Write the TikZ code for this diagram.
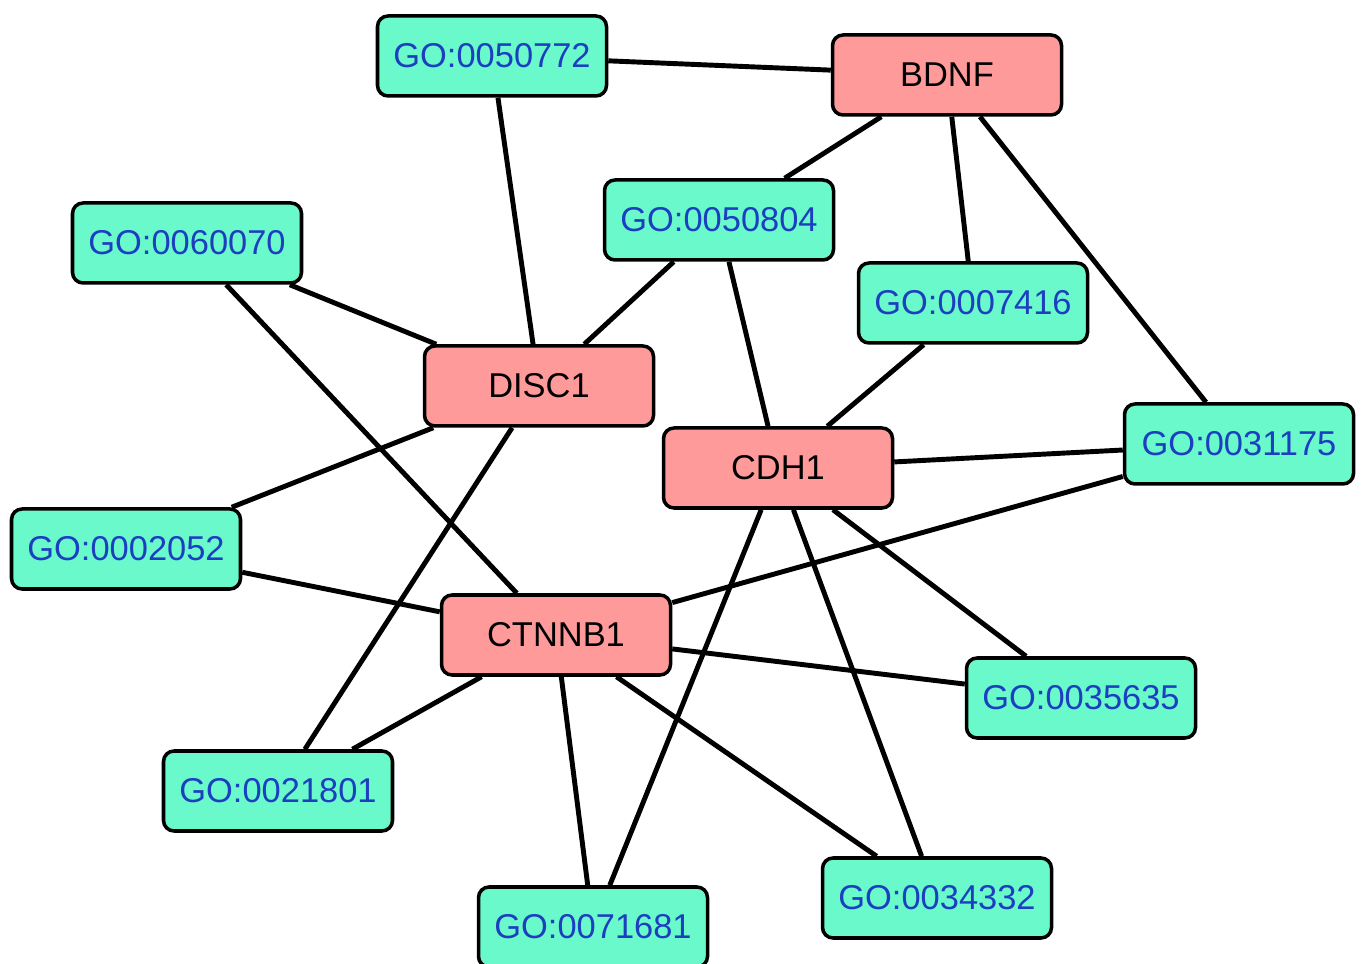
\documentclass[tikz,border=0pt]{standalone}
\usepackage{fontspec}
\setmainfont{Liberation Sans}
\usepackage{tikz}
\usetikzlibrary{positioning}
\definecolor{termfill}{HTML}{69F9CB}
\definecolor{genefill}{HTML}{FF9A9A}
\definecolor{termtext}{HTML}{1C3FC0}
\tikzset{
  base/.style={rounded corners=6pt, draw=black, line width=2pt, align=center,
    minimum width=4.58cm, minimum height=1.6cm, inner sep=2pt,
    font=\fontsize{19.6}{23}\selectfont},
  term/.style={base, fill=termfill, text=termtext},
  gene/.style={base, fill=genefill, text=black},
  link/.style={line width=2.8pt, draw=black},
}
\begin{document}
\begin{tikzpicture}
  \useasboundingbox (0,0) rectangle (27.26,19.26);
  % genes
  \foreach \x/\y/\id in {18.94/17.76/BDNF, 10.78/11.54/DISC1, 15.56/9.90/CDH1, 11.12/6.56/CTNNB1}
    \node[gene] (\id) at (\x,\y) {\id};
  % GO terms
  \foreach \x/\y/\id in {
      9.84/18.14/0050772, 14.38/14.86/0050804, 3.74/14.40/0060070,
      19.46/13.20/0007416, 24.78/10.38/0031175, 2.52/8.28/0002052,
      21.62/5.30/0035635, 5.56/3.44/0021801, 18.74/1.30/0034332,
      11.86/0.72/0071681}
    \node[term] (go\id) at (\x,\y) {GO:\id};
  % links
  \foreach \a/\b in {
      go0050772/BDNF, go0050772/DISC1,
      BDNF/go0050804, BDNF/go0007416, BDNF/go0031175,
      go0050804/DISC1, go0050804/CDH1,
      go0060070/DISC1, go0060070/CTNNB1,
      go0007416/CDH1,
      DISC1/go0002052, DISC1/go0021801,
      CDH1/go0031175, go0031175/CTNNB1,
      CDH1/go0035635, CDH1/go0034332, CDH1/go0071681,
      go0002052/CTNNB1, CTNNB1/go0035635, CTNNB1/go0021801,
      CTNNB1/go0071681, CTNNB1/go0034332}
    \draw[link] (\a) -- (\b);
\end{tikzpicture}
\end{document}
